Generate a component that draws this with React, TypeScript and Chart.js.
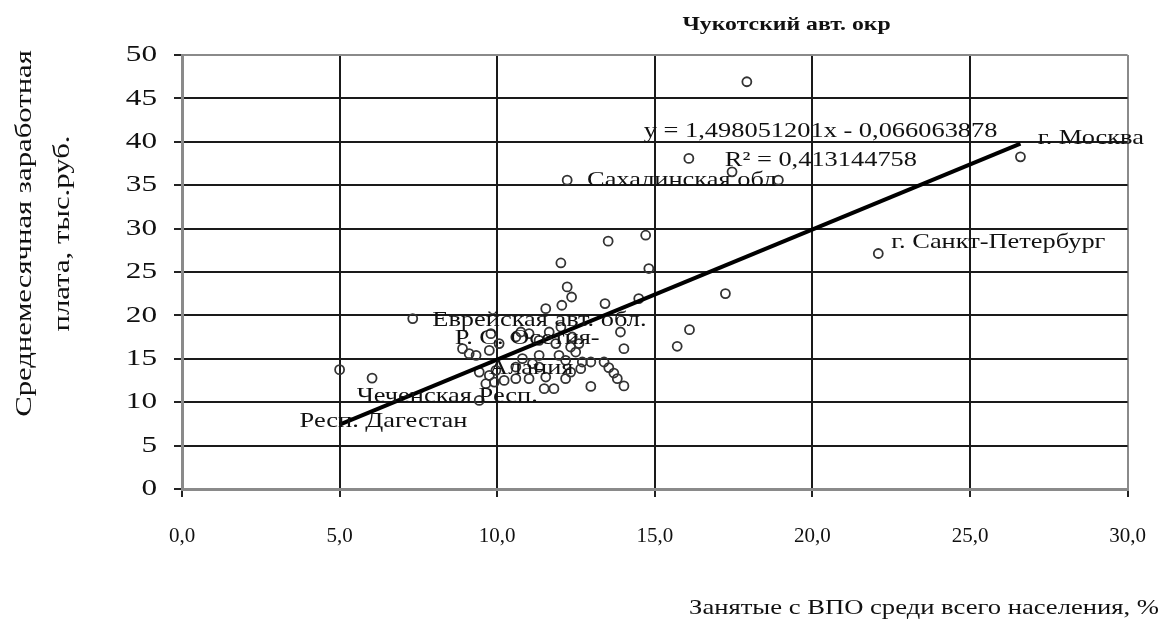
import React, { useEffect, useRef } from 'react';
import { Chart, registerables } from 'chart.js';

Chart.register(...registerables);

// Share of employed with higher education among the whole population, %
const educatedShare = [
  26.6, 22.09, 17.92, 16.08, 17.45, 18.92, 12.22, 13.52, 14.71, 12.02,
  14.81, 12.22, 12.36, 13.42, 14.49, 12.05, 11.54, 17.24, 7.32, 13.91,
  14.02, 16.1, 15.71, 5.0, 6.03, 9.43, 8.9, 9.11, 9.33, 9.75,
  9.8, 10.06, 10.59, 10.75, 11.01, 11.33, 11.65, 11.86, 12.33, 12.49,
  11.96, 11.33, 12.7, 12.97, 13.39, 13.54, 13.7, 13.81, 14.02, 12.97,
  12.65, 12.33, 12.17, 11.54, 11.49, 11.8, 11.33, 10.59, 9.96, 9.75,
  9.64, 9.91, 10.22, 10.59, 11.01, 11.12, 10.8, 9.43, 12.02, 12.38,
  12.59, 12.17,
];

// Average monthly wage, thousand rubles
const avgWage = [
  38.27, 27.13, 46.92, 38.09, 36.54, 35.58, 35.58, 28.55, 29.24, 26.04,
  25.4, 23.28, 22.12, 21.36, 21.94, 21.17, 20.78, 22.51, 19.63, 18.09,
  16.17, 18.36, 16.44, 13.75, 12.78, 10.21, 16.17, 15.59, 15.4, 15.97,
  17.9, 16.75, 17.51, 18.09, 17.9, 17.13, 18.09, 16.75, 16.36, 15.78,
  15.4, 15.4, 14.63, 14.63, 14.63, 13.98, 13.36, 12.71, 11.88, 11.82,
  13.86, 13.47, 12.71, 12.9, 11.56, 11.56, 14.05, 14.05, 13.67, 13.09,
  12.13, 12.32, 12.51, 12.71, 12.71, 14.44, 15.02, 13.47, 18.66, 17.51,
  16.75, 14.82,
];

const xTicks = [0, 5, 10, 15, 20, 25, 30];
const yTicks = [0, 5, 10, 15, 20, 25, 30, 35, 40, 45, 50];

const trendSlope = 1.498051201;
const trendIntercept = -0.066063878;

const equationText = 'y = 1,498051201x - 0,066063878';
const r2Text = 'R² = 0,413144758';
const yTitleLines = ['Среднемесячная заработная', 'плата, тыс.руб.'];
const xTitle = 'Занятые с ВПО среди всего населения, %';

// annotations anchored in data units
const annotations = [
  { text: 'Чукотский авт. окр', x: 19.18, y: 53.5, align: 'center', size: 19, bold: true },
  { text: equationText, x: 14.65, y: 41.23, align: 'left', size: 22, bold: false },
  { text: r2Text, x: 17.22, y: 37.89, align: 'left', size: 22, bold: false },
  { text: 'г. Москва', x: 27.15, y: 40.43, align: 'left', size: 22, bold: false },
  { text: 'г. Санкт-Петербург', x: 22.5, y: 28.43, align: 'left', size: 22, bold: false },
  { text: 'Сахалинская обл', x: 12.85, y: 35.58, align: 'left', size: 22, bold: false },
  { text: 'Еврейская авт. обл.', x: 7.94, y: 19.43, align: 'left', size: 22, bold: false },
  { text: 'Р. С. Осетия-', x: 10.95, y: 17.36, align: 'center', size: 22, bold: false },
  { text: 'Алания', x: 11.08, y: 13.9, align: 'center', size: 22, bold: false },
  { text: 'Чеченская Респ.', x: 5.54, y: 10.67, align: 'left', size: 22, bold: false },
  { text: 'Респ. Дагестан', x: 3.73, y: 7.79, align: 'left', size: 22, bold: false },
];

const FONT = '"Liberation Serif"';
const TEXT_COLOR = '#111';
const STRETCH = 1.2;

const fmtX = (v: number) => v.toFixed(1).replace('.', ',');

function drawStretched(
  ctx: CanvasRenderingContext2D,
  text: string,
  x: number,
  y: number,
  align: CanvasTextAlign,
  stretch: number,
  rotate = 0
) {
  ctx.save();
  ctx.translate(x, y);
  if (rotate) ctx.rotate(rotate);
  ctx.scale(stretch, 1);
  ctx.textAlign = align;
  ctx.fillText(text, 0, 0);
  ctx.restore();
}

const annotationPlugin = {
  id: 'annotationsAndTitles',
  afterDraw(chart: any) {
    const { ctx, scales } = chart;
    const xs = scales.x;
    const ys = scales.y;
    ctx.save();
    ctx.fillStyle = TEXT_COLOR;
    ctx.textBaseline = 'middle';
    for (const a of annotations) {
      ctx.font = `${a.bold ? 'bold ' : ''}${a.size}px ${FONT}`;
      drawStretched(ctx, a.text, xs.getPixelForValue(a.x), ys.getPixelForValue(a.y), a.align as CanvasTextAlign, a.bold ? 1.25 : STRETCH);
    }
    // y tick labels
    ctx.font = `24px ${FONT}`;
    for (const v of yTicks) {
      drawStretched(ctx, String(v), ys.left + ys.width - 25, ys.getPixelForValue(v), 'right', 1.3);
    }
    // y axis title (rotated, two lines)
    ctx.font = `24px ${FONT}`;
    const cy = 233.5;
    drawStretched(ctx, yTitleLines[0], 25, cy, 'center', 1.28, -Math.PI / 2);
    drawStretched(ctx, yTitleLines[1], 63, cy, 'center', 1.28, -Math.PI / 2);
    // x axis title
    ctx.font = `22px ${FONT}`;
    drawStretched(ctx, xTitle, 1159, 608, 'right', 1.21);
    ctx.restore();
  },
};

export default function App() {
  const canvasRef = useRef<HTMLCanvasElement | null>(null);

  useEffect(() => {
    const canvas = canvasRef.current;
    if (!canvas) return;
    let cancelled = false;
    const points = educatedShare.map((x, i) => ({ x, y: avgWage[i] }));
    const minX = Math.min(...educatedShare);
    const maxX = Math.max(...educatedShare);
    const trend = [minX, maxX].map((x) => ({ x, y: trendSlope * x + trendIntercept }));

    const gridColor = (edgeValues: number[]) => (c: any) =>
      edgeValues.includes(c.tick?.value) ? '#8a8a8a' : '#1a1a1a';

    const chart = new Chart(canvas, {
      type: 'scatter',
      data: {
        datasets: [
          {
            type: 'scatter',
            data: points,
            pointRadius: 4.5,
            pointBorderWidth: 1.8,
            pointBorderColor: '#333',
            pointBackgroundColor: 'rgba(255,255,255,0)',
            order: 2,
          } as any,
          {
            type: 'line',
            data: trend,
            borderColor: '#000',
            borderWidth: 4,
            pointRadius: 0,
            fill: false,
            order: 1,
          } as any,
        ],
      },
      options: {
        responsive: false,
        animation: false,
        devicePixelRatio: 1,
        layout: { padding: { top: 55, right: 43, left: 0, bottom: 0 } },
        plugins: { legend: { display: false }, tooltip: { enabled: false } },
        scales: {
          x: {
            type: 'linear',
            min: 0,
            max: 30,
            afterBuildTicks: (s: any) => {
              s.ticks = xTicks.map((v) => ({ value: v }));
            },
            afterFit: (s: any) => {
              s.height = 146;
            },
            ticks: {
              callback: (v: any) => fmtX(Number(v)),
              font: { family: FONT, size: 21 },
              color: TEXT_COLOR,
              padding: 27,
              maxRotation: 0,
            },
            grid: {
              color: gridColor([0, 30]),
              lineWidth: 2,
              tickLength: 8,
              tickColor: '#222',
            },
            border: { display: true, color: '#8a8a8a', width: 3 },
          },
          y: {
            type: 'linear',
            min: 0,
            max: 50,
            afterBuildTicks: (s: any) => {
              s.ticks = yTicks.map((v) => ({ value: v }));
            },
            afterFit: (s: any) => {
              s.width = 182;
            },
            ticks: { display: false },
            grid: {
              color: gridColor([0, 50]),
              lineWidth: 2,
              tickLength: 8,
              tickColor: '#222',
            },
            border: { display: true, color: '#8a8a8a', width: 3 },
          },
        },
      },
      plugins: [annotationPlugin],
    });

    const fontsApi = (document as any).fonts;
    if (fontsApi && fontsApi.load) {
      Promise.all([
        fontsApi.load('22px "Liberation Serif"'),
        fontsApi.load('bold 19px "Liberation Serif"'),
      ])
        .then(() => {
          if (!cancelled) chart.update();
        })
        .catch(() => {});
    }

    return () => {
      cancelled = true;
      chart.destroy();
    };
  }, []);

  return (
    <div style={{ position: 'absolute', left: 0, top: 0, width: 1173, height: 635, background: '#fff' }}>
      <canvas ref={canvasRef} width={1173} height={635} style={{ display: 'block' }} />
    </div>
  );
}
